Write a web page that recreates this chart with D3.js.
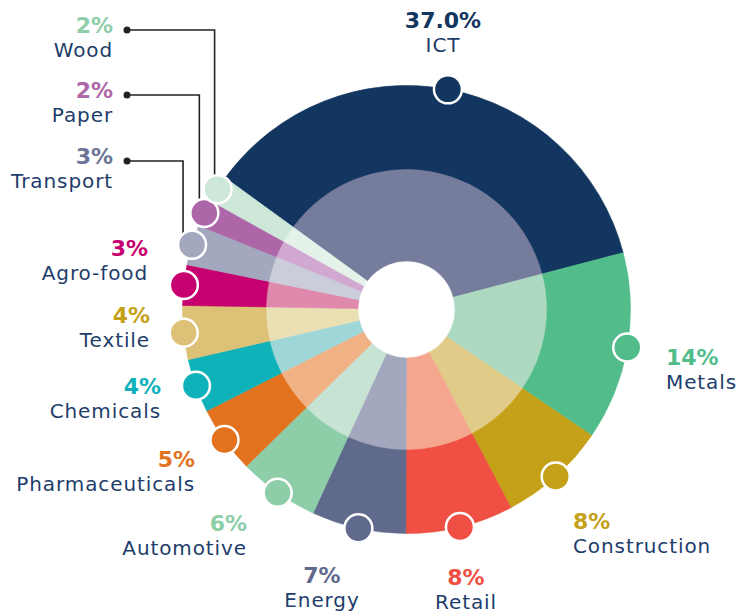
<!DOCTYPE html>
<html>
<head>
<meta charset="utf-8">
<script src="https://cdn.jsdelivr.net/npm/d3@7"></script>
<style>
  body { margin: 0; background: #fff; }
  text { font-family: "DejaVu Sans", sans-serif; }
</style>
</head>
<body>
<div id="chart"></div>
<script>
// sector shares
const categories = ["ICT", "Metals", "Construction", "Retail", "Energy", "Automotive",
  "Pharmaceuticals", "Chemicals", "Textile", "Agro-food", "Transport", "Paper", "Wood"];
const shares = [37, 14, 8, 8, 7, 6, 5, 4, 4, 3, 3, 2, 2];
const shareLabels = ["37.0%", "14%", "8%", "8%", "7%", "6%", "5%", "4%", "4%", "3%", "3%", "2%", "2%"];

const outerColors = ["#12365f", "#52bd8a", "#c4a118", "#ef5043", "#5f6a8c", "#8dcea8",
  "#e3721f", "#10b2ba", "#dcc176", "#c6006e", "#a4a8be", "#ad67a8", "#cde7d8"];
const innerColors = ["#757c9c", "#acd9c0", "#e1cb88", "#f4a68f", "#a3a8bf", "#c6e3d3",
  "#f0b184", "#9fd6d8", "#ebdfb4", "#df8aac", "#cbcddb", "#d1a8d0", "#e4f2ea"];
const pctColors = ["#12365f", "#52bd8a", "#c4a118", "#ef5043", "#5f6a8c", "#8dcea8",
  "#e3721f", "#10b2ba", "#c4a118", "#c6006e", "#6b7396", "#ad67a8", "#8dcea8"];
const nameColor = "#1e3d6b";

const width = 747, height = 615;
const cx = 406.5, cy = 309.5;
const outerR = 224, midR = 140, holeR = 48.5, dotR = 14;
const deg = Math.PI / 180;
const start = -54 * deg;

// label placement (x, percent baseline, anchor)
const labelLayout = [
  {x: 443, y: 29, a: "middle"},
  {x: 666, y: 366, a: "start"},
  {x: 573, y: 530, a: "start"},
  {x: 466, y: 586, a: "middle"},
  {x: 322, y: 584, a: "middle"},
  {x: 247, y: 532, a: "end"},
  {x: 195, y: 468, a: "end"},
  {x: 161, y: 395, a: "end"},
  {x: 150, y: 324, a: "end"},
  {x: 148, y: 257, a: "end"},
  {x: 113, y: 165, a: "end"},
  {x: 113, y: 99, a: "end"},
  {x: 113, y: 34, a: "end"}
];
// leaders for the three thin slices
const leaders = [{i: 10, shift: 9}, {i: 11, shift: 5}, {i: 12, shift: 3}];

const svg = d3.select("#chart").append("svg")
  .attr("width", width).attr("height", height);

const g = svg.append("g").attr("transform", `translate(${cx},${cy})`);

const pie = d3.pie().sort(null).startAngle(start).endAngle(start + 2 * Math.PI);
const arcs = pie(shares);

const outerArc = d3.arc().innerRadius(midR - 1).outerRadius(outerR);
const innerArc = d3.arc().innerRadius(holeR).outerRadius(midR);

g.selectAll("path.outer")
  .data(arcs)
  .enter().append("path")
  .attr("class", "outer")
  .attr("d", outerArc)
  .attr("fill", (d, i) => outerColors[i])
  .attr("stroke", (d, i) => outerColors[i])
  .attr("stroke-width", 0.6);

g.selectAll("path.inner")
  .data(arcs)
  .enter().append("path")
  .attr("class", "inner")
  .attr("d", innerArc)
  .attr("fill", (d, i) => innerColors[i])
  .attr("stroke", (d, i) => innerColors[i])
  .attr("stroke-width", 0.6);

// dot positions on the outer rim at the middle of each slice
const dotPos = arcs.map(d => {
  const a = (d.startAngle + d.endAngle) / 2;
  return [cx + outerR * Math.sin(a), cy - outerR * Math.cos(a)];
});

// leader lines
leaders.forEach(l => {
  const lab = labelLayout[l.i];
  const [dx, dy] = dotPos[l.i];
  const x0 = lab.x + 14, y0 = lab.y - 4, xv = dx - l.shift;
  svg.append("path")
    .attr("d", `M${x0},${y0}H${xv}V${dy}`)
    .attr("fill", "none")
    .attr("stroke", "#222")
    .attr("stroke-width", 1.6);
  svg.append("circle")
    .attr("cx", x0).attr("cy", y0).attr("r", 3.5)
    .attr("fill", "#222");
});

svg.selectAll("circle.dot")
  .data(dotPos)
  .enter().append("circle")
  .attr("class", "dot")
  .attr("cx", d => d[0])
  .attr("cy", d => d[1])
  .attr("r", dotR)
  .attr("fill", (d, i) => outerColors[i])
  .attr("stroke", "#fff")
  .attr("stroke-width", 2.5);

// labels
const lg = svg.selectAll("g.label")
  .data(categories)
  .enter().append("g")
  .attr("class", "label");

lg.append("text")
  .attr("x", (d, i) => labelLayout[i].x)
  .attr("y", (d, i) => labelLayout[i].y - 1)
  .attr("text-anchor", (d, i) => labelLayout[i].a)
  .attr("font-size", 22)
  .attr("font-weight", "bold")
  .attr("fill", (d, i) => pctColors[i])
  .text((d, i) => shareLabels[i]);

lg.append("text")
  .attr("x", (d, i) => labelLayout[i].x)
  .attr("y", (d, i) => labelLayout[i].y + 23)
  .attr("text-anchor", (d, i) => labelLayout[i].a)
  .attr("font-size", 20)
  .attr("letter-spacing", 0.9)
  .attr("fill", nameColor)
  .text(d => d);
</script>
</body>
</html>
